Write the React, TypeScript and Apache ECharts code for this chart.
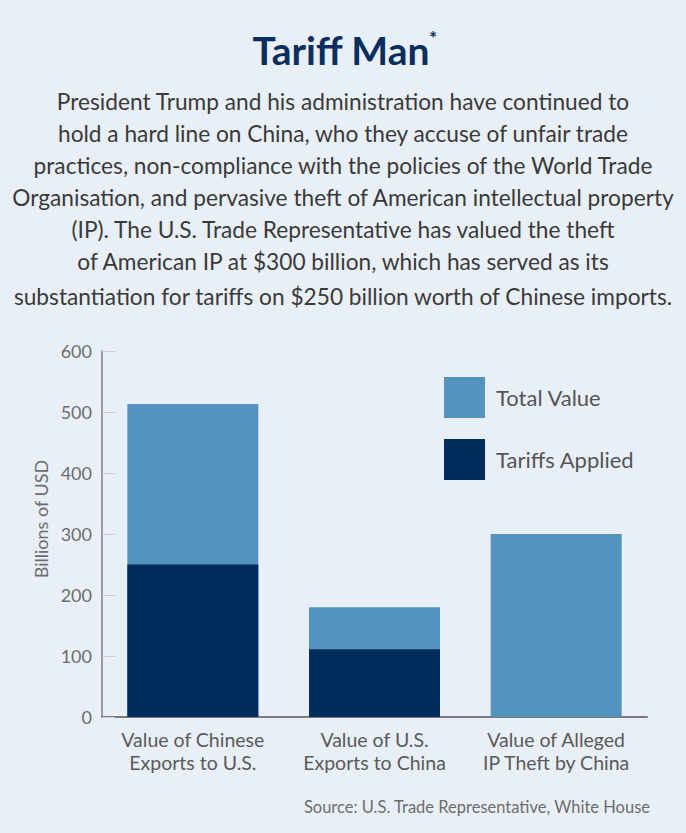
import React, { useEffect, useRef } from "react";
import * as echarts from "echarts";

const categories = ["Value of Chinese\nExports to U.S.", "Value of U.S.\nExports to China", "Value of Alleged\nIP Theft by China"];
const totalValue = [513, 180, 300];
const tariffsApplied: (number | string)[] = [250, 111, "-"];
const yTicks = [0, 100, 200, 300, 400, 500, 600];
const subtitleLines = [
  "President Trump and his administration have continued to",
  "hold a hard line on China, who they accuse of unfair trade",
  "practices, non-compliance with the policies of the World Trade",
  "Organisation, and pervasive theft of American intellectual property",
  "(IP). The U.S. Trade Representative has valued the theft",
  "of American IP at $300 billion, which has served as its",
  "substantiation for tariffs on $250 billion worth of Chinese imports.",
];

const FONT = "Lato, 'Noto Sans', sans-serif";
const LIGHT = "#5493be";
const DARK = "#002d5c";

export default function App() {
  const ref = useRef<HTMLDivElement>(null);
  useEffect(() => {
    if (!ref.current) return;
    const chart = echarts.init(ref.current, undefined, { renderer: "svg" });
    const graphics: any[] = [
      {
        type: "text",
        x: 341,
        y: 50,
        style: { text: "Tariff Man", font: `bold 39px ${FONT}`, fill: "#0a2f5e", align: "center", verticalAlign: "middle" },
      },
      {
        type: "text",
        x: 429,
        y: 28,
        style: { text: "*", font: `bold 19px ${FONT}`, fill: "#0a2f5e" },
      },
      ...subtitleLines.map((t, i) => ({
        type: "text",
        x: 343,
        y: 101 + i * 32 + (i === 6 ? 3 : 0),
        style: { text: t, font: `22.7px ${FONT}`, fill: "#3a3a3a", align: "center", verticalAlign: "middle" },
      })),
      {
        type: "text",
        x: 41,
        y: 519,
        rotation: Math.PI / 2,
        style: { text: "Billions of USD", font: `18px ${FONT}`, fill: "#6d6d6d", align: "center", verticalAlign: "middle" },
      },
      {
        type: "text",
        x: 650,
        y: 807,
        style: { text: "Source: U.S. Trade Representative, White House", font: `16.5px ${FONT}`, fill: "#6d6d6d", align: "right", verticalAlign: "middle" },
      },
    ];
    chart.setOption({
      animation: false,
      backgroundColor: "#e9eff7",
      textStyle: { fontFamily: FONT },
      graphic: graphics,
      legend: {
        orient: "vertical",
        left: 439,
        top: 372,
        itemWidth: 41,
        itemHeight: 41,
        itemGap: 21,
        icon: "rect",
        textStyle: { fontSize: 22, color: "#555", fontFamily: FONT, padding: [0, 0, 0, 6] },
        data: ["Total Value", "Tariffs Applied"],
      },
      grid: { left: 102, right: 39, top: 351, bottom: 116, containLabel: false },
      xAxis: {
        type: "category",
        data: categories,
        axisLine: { lineStyle: { color: "#7a7a7a", width: 2 } },
        axisTick: { show: false },
        axisLabel: { interval: 0, fontSize: 19.5, color: "#5a5a5a", lineHeight: 23, margin: 11, fontFamily: FONT },
      },
      yAxis: {
        type: "value",
        min: 0,
        max: 600,
        interval: 100,
        axisLine: { show: true, lineStyle: { color: "#9a9a9a", width: 2 } },
        axisTick: { show: true, inside: true, length: 13, lineStyle: { color: "#cfcfcf" } },
        splitLine: { show: false },
        axisLabel: {
          fontSize: 18,
          color: "#6d6d6d",
          margin: 10,
          fontFamily: FONT,
          formatter: (v: number) => (yTicks.includes(v) ? String(v) : ""),
        },
      },
      series: [
        {
          name: "Total Value",
          type: "bar",
          data: totalValue,
          barWidth: 131,
          itemStyle: { color: LIGHT },
        },
        {
          name: "Tariffs Applied",
          type: "bar",
          data: tariffsApplied,
          barWidth: 131,
          barGap: "-100%",
          itemStyle: { color: DARK },
        },
      ],
    });
    return () => chart.dispose();
  }, []);
  return <div ref={ref} style={{ position: "fixed", left: 0, top: 0, width: 686, height: 833 }} />;
}
